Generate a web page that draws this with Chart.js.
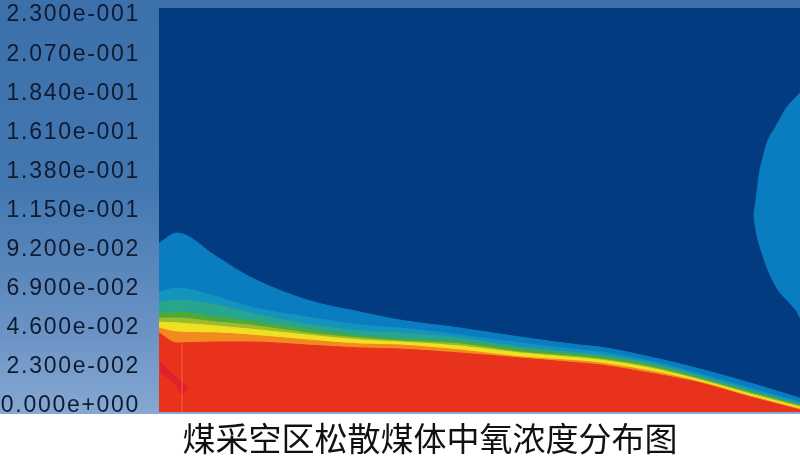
<!DOCTYPE html>
<html>
<head>
<meta charset="utf-8">
<style>
  html, body { margin: 0; padding: 0; background: #fff; overflow: hidden; }
  #wrap { position: relative; width: 800px; height: 459px; }
  #panel { position: absolute; left: 0; top: 0; width: 800px; height: 414px;
           background: linear-gradient(to bottom, #3b70aa 0%, #4377b1 45%, #6a93c4 80%, #86a8d2 100%); }
  #chart { position: absolute; left: 0; top: 0; }
  #title { position: absolute; left: 0; top: 417px; width: 860px; text-align: center;
           font: 33px "Noto Sans CJK SC", sans-serif; line-height: 40px; color: #111; }
</style>
</head>
<body>
<div id="wrap">
  <div id="panel"></div>
  <canvas id="chart" width="800" height="459"></canvas>
  <div id="title">煤采空区松散煤体中氧浓度分布图</div>
</div>
<script src="https://cdn.jsdelivr.net/npm/chart.js@4/dist/chart.umd.min.js"></script>
<script>
// colour scale ticks
const tickValues = [0, 0.023, 0.046, 0.069, 0.092, 0.115, 0.138, 0.161, 0.184, 0.207, 0.23];
const tickLabels = ['0.000e+000', '2.300e-002', '4.600e-002', '6.900e-002', '9.200e-002', '1.150e-001',
                    '1.380e-001', '1.610e-001', '1.840e-001', '2.070e-001', '2.300e-001'];

// distance along the goaf, same for every contour
const distance = [0, 18, 58, 91, 148, 201, 241, 301, 361, 421, 441, 491, 541, 591, 641];

// upper edge of each contour band
const lightBlueTop   = [.0941, .1000, .0859, .0741, .0606, .0535, .0488, .0441, .0388, .0341, .0329, .0271, .0200, .0118, .0029];
const tealTop        = [.0653, .0676, .0624, .0565, .0506, .0459, .0441, .0400, .0353, .0312, .0300, .0247, .0171, .0088, .0006];
const seaGreenTop    = [.0594, .0606, .0576, .0529, .0465, .0424, .0412, .0382, .0329, .0294, .0282, .0235, .0159, .0076, -.0006];
const greenTop       = [.0529, .0535, .0506, .0482, .0435, .0394, .0376, .0359, .0318, .0282, .0271, .0224, .0147, .0065, -.0012];
const yellowGreenTop = [.0500, .0500, .0476, .0459, .0412, .0382, .0365, .0347, .0300, .0271, .0259, .0212, .0141, .0059, -.0018];
const yellowTop      = [.0476, .0471, .0453, .0435, .0400, .0371, .0359, .0335, .0294, .0265, .0253, .0206, .0135, .0053, -.0024];
const orangeTop      = [.0441, .0418, .0412, .0400, .0371, .0347, .0341, .0312, .0271, .0247, .0235, .0188, .0124, .0041, -.0035];
const redTop         = [.0412, .0353, .0359, .0359, .0341, .0324, .0318, .0294, .0265, .0235, .0224, .0176, .0118, .0035, -.0041];

// light blue pocket on the right edge
const pocketX = [641, 628, 616, 609, 601, 597, 595, 599, 609, 619, 637, 641];
const pocketY = [.1824, .1741, .1618, .1547, .1371, .1194, .1100, .0959, .0782, .0665, .0547, .0500];

// darker red patch low on the left
const patchX = [1, 11, 29, 23, 17, 1];
const patchY = [.0241, .0182, .0088, .0047, .0106, .0182];

// faint vertical streak above the patch
const streakX = [23, 23];
const streakY = [.0353, -.0053];

function zip(xs, ys) {
  return xs.map((x, i) => ({ x, y: ys[i] }));
}

function band(values, color) {
  return {
    data: zip(distance, values),
    backgroundColor: color,
    borderColor: color,
    borderWidth: 1,
    pointRadius: 0,
    fill: 'start',
    cubicInterpolationMode: 'monotone',
  };
}

function shape(xs, ys, color) {
  return {
    data: zip(xs, ys),
    backgroundColor: color,
    borderColor: color,
    borderWidth: 1,
    pointRadius: 0,
    fill: 'shape',
    tension: 0.2,
  };
}

// Dark blue field behind all the bands
const plotBackground = {
  id: 'plotBackground',
  beforeDatasetsDraw(chart) {
    const { ctx, chartArea: a } = chart;
    ctx.save();
    ctx.fillStyle = '#023b80';
    ctx.fillRect(a.left, a.top, a.right - a.left, a.bottom - a.top);
    ctx.restore();
  },
};

// Reference labels are stretched wide, so open them up a little
const wideLabels = {
  id: 'wideLabels',
  beforeDraw(chart) { chart.ctx.letterSpacing = '1.7px'; },
};

new Chart(document.getElementById('chart'), {
  type: 'line',
  data: {
    // first dataset is painted last
    datasets: [
      { data: zip(streakX, streakY), borderColor: 'rgba(240,130,60,0.3)', borderWidth: 1, pointRadius: 0, fill: false },
      shape(patchX, patchY, '#e2202a'),
      band(redTop, '#e8321c'),
      band(orangeTop, '#f28a1f'),
      band(yellowTop, '#f1e021'),
      band(yellowGreenTop, '#9bbd2c'),
      band(greenTop, '#4ea83c'),
      band(seaGreenTop, '#27a58e'),
      band(tealTop, '#1593bf'),
      shape(pocketX, pocketY, '#0a7cc0'),
      band(lightBlueTop, '#0a7cc0'),
    ],
  },
  options: {
    responsive: false,
    animation: false,
    devicePixelRatio: 1,
    layout: { padding: { top: 8, bottom: 47, left: 0, right: 0 } },
    plugins: { legend: { display: false }, tooltip: { enabled: false }, title: { display: false } },
    scales: {
      x: { type: 'linear', display: false, min: 0, max: 641 },
      y: {
        min: -0.0053,
        max: 0.2324,
        grid: { display: false },
        border: { display: false },
        afterBuildTicks: scale => { scale.ticks = tickValues.map(value => ({ value })); },
        afterFit: scale => { scale.width = 159; scale.paddingTop = 0; scale.paddingBottom = 0; },
        ticks: {
          autoSkip: false,
          padding: 11,
          labelOffset: 3,
          color: '#101a30',
          font: { family: '"Liberation Sans", Arial, sans-serif', size: 23 },
          callback: (value) => tickLabels[tickValues.indexOf(value)],
        },
      },
    },
  },
  plugins: [plotBackground, wideLabels],
});
</script>
</body>
</html>
